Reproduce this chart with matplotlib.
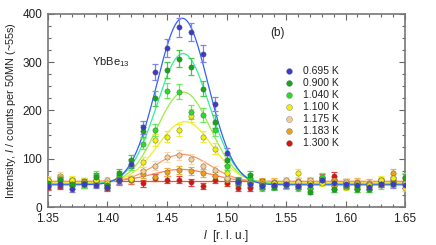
import matplotlib
matplotlib.use('Agg')
import matplotlib.pyplot as plt
import numpy as np
from matplotlib.ticker import MultipleLocator

plt.rcParams['font.family'] = ['Liberation Sans', 'DejaVu Sans']
plt.rcParams['mathtext.fontset'] = 'custom'
plt.rcParams['mathtext.it'] = 'Liberation Sans:italic'
plt.rcParams['mathtext.rm'] = 'Liberation Sans'

# l values [r.l.u.]
l_vals = np.round(np.arange(1.35, 1.655, 0.01), 2)

temps = ['0.695 K', '0.900 K', '1.040 K', '1.100 K', '1.175 K', '1.183 K', '1.300 K']

I_0695 = [44, 47, 37, 48, 46, 42, 55, 90, 165, 280, 330, 372, 363, 318, 213, 111, 52, 48, 43, 45, 47, 44, 46, 55, 50, 47, 45, 42, 48, 47, 46]
I_0900 = [50, 55, 47, 50, 62, 46, 70, 97, 158, 225, 284, 307, 291, 245, 177, 98, 55, 66, 45, 42, 46, 43, 32, 55, 38, 46, 37, 38, 48, 50, 60]
I_1040 = [45, 58, 45, 47, 66, 42, 66, 86, 131, 160, 241, 239, 197, 191, 160, 85, 50, 60, 40, 44, 45, 40, 40, 63, 37, 44, 38, 37, 45, 48, 62]
I_1100 = [55, 60, 57, 52, 55, 50, 56, 58, 93, 139, 146, 160, 189, 146, 121, 70, 52, 50, 48, 50, 47, 70, 50, 50, 45, 42, 47, 45, 56, 60, 40]
I_1175 = [57, 65, 55, 52, 57, 55, 57, 58, 75, 86, 104, 108, 100, 86, 76, 60, 53, 52, 48, 50, 55, 52, 55, 58, 50, 52, 50, 48, 55, 52, 50]
I_1183 = [45, 48, 52, 53, 50, 45, 55, 57, 68, 63, 73, 77, 75, 70, 65, 55, 52, 50, 53, 52, 50, 53, 52, 52, 55, 50, 52, 50, 53, 70, 52]
I_1300 = [41, 44, 50, 47, 48, 40, 53, 55, 49, 61, 57, 57, 51, 44, 57, 50, 40, 39, 50, 44, 47, 48, 52, 60, 64, 50, 48, 45, 50, 55, 47]

# Gaussian fit parameters: background, amplitude, centre, sigma
fit_bg = [46, 48, 48, 50, 52, 53, 54]
fit_amp = [345, 270, 190, 127, 57, 25, 0]
fit_cen = [1.4630, 1.4635, 1.4640, 1.4650, 1.4630, 1.4620, 1.4620]
fit_sig = [0.0215, 0.0220, 0.0225, 0.0230, 0.0230, 0.0240, 0.0240]

marker_cols = ['#3a3ad0', '#14a814', '#22e022', '#f2f200', '#f6cc90', '#f0a010', '#e01010']
err_cols = ['#8080f0', '#44cc44', '#66ee55', '#eeee33', '#f8d8b0', '#f0b040', '#f04040']
line_cols = ['#3060ff', '#33ee99', '#99ee44', '#f0f020', '#ff9966', '#ff8050', '#ff5010']

series = [I_0695, I_0900, I_1040, I_1100, I_1175, I_1183, I_1300]

fig = plt.figure(figsize=(4.36, 2.45), dpi=100)
ax = fig.add_axes([0.110, 0.155, 0.819, 0.788])

xf = np.linspace(1.35, 1.65, 600)
for k in range(len(series) - 1, -1, -1):
    yf = fit_bg[k] + fit_amp[k] * np.exp(-(xf - fit_cen[k]) ** 2 / (2 * fit_sig[k] ** 2))
    ax.plot(xf, yf, color=line_cols[k], lw=0.9, zorder=2)

for k in range(len(series) - 1, -1, -1):
    y = np.array(series[k], dtype=float)
    ax.errorbar(l_vals, y, yerr=np.sqrt(y), fmt='none', ecolor=err_cols[k],
                elinewidth=0.9, capsize=2.4, capthick=0.9, zorder=3)
    ax.plot(l_vals, y, 'o', ms=3.8, mfc=marker_cols[k], mec='#555555', mew=0.3, zorder=4)

# legend drawn as markers + text
for k, t in enumerate(temps):
    ax.plot(1.5525, 282 - k * 25, 'o', ms=4.2, mfc=marker_cols[k], mec='#777777', mew=0.3,
            zorder=5)
    ax.text(1.564, 282 - k * 25, t, fontsize=7.5, va='center', ha='left', color='#222222')

ax.text(1.387, 300, 'YbBe$_{13}$', fontsize=8, color='#222222', va='center')
ax.text(1.537, 360, '(b)', fontsize=8.5, color='#222222', va='center')

ax.set_xlim(1.35, 1.65)
ax.set_ylim(0, 400)
ax.xaxis.set_minor_locator(MultipleLocator(0.01))
ax.yaxis.set_major_locator(MultipleLocator(100))
ax.yaxis.set_minor_locator(MultipleLocator(25))
ax.set_xticks(np.arange(1.35, 1.651, 0.05))
ax.set_xticklabels(['1.35', '1.40', '1.45', '1.50', '1.55', '1.60', '1.65'])

ax.tick_params(which='both', direction='in', top=True, right=True, colors='#666666',
               labelcolor='#222222', labelsize=8.5)
ax.tick_params(which='major', length=4, width=0.8)
ax.tick_params(which='minor', length=2.5, width=0.8)
ax.tick_params(axis='x', which='major', pad=4.5)
ax.tick_params(axis='y', which='major', pad=4)
for s in ax.spines.values():
    s.set_color('#777777')
    s.set_linewidth(1.2)

ax.set_xlabel('$l$  [r. l. u.]', fontsize=8.5, color='#222222', labelpad=2)
ax.set_ylabel('Intensity, $I$ / counts per 50MN (~55s)', fontsize=7.8, color='#222222', labelpad=3)

fig.savefig('out.png', dpi=100)
